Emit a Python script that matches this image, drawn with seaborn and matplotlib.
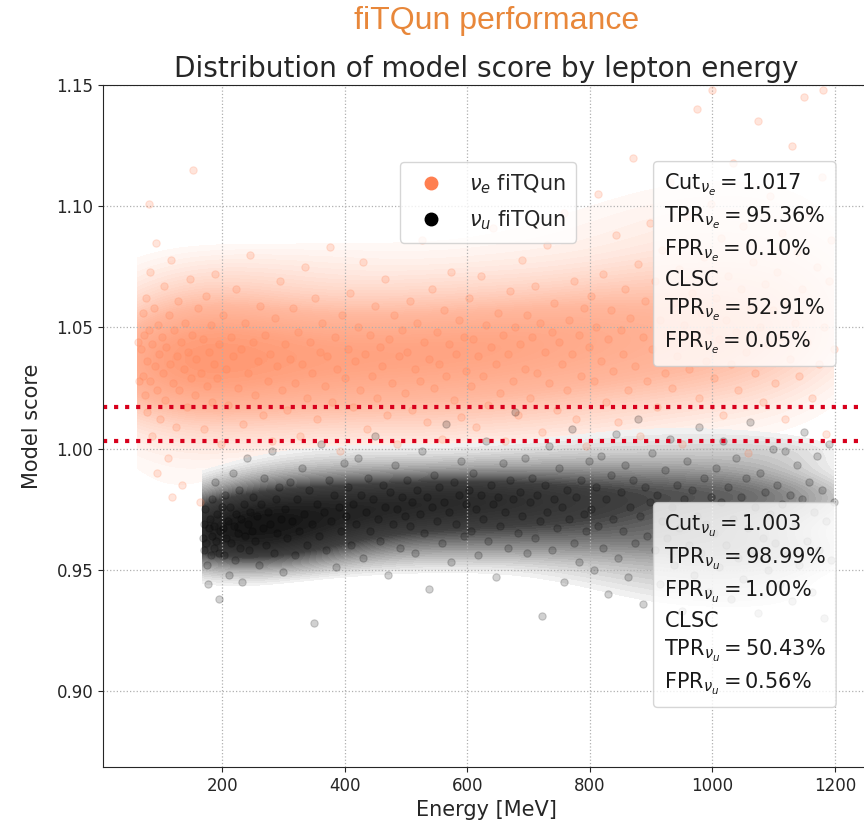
import matplotlib
matplotlib.use("Agg")
from matplotlib import pyplot as plt
from matplotlib.colors import LinearSegmentedColormap, to_rgb
from matplotlib.lines import Line2D
import pandas as pd
import seaborn as sns

# (energy [MeV], model score), nu_e sample
nue_low = [
    (62, 1.044), (65, 1.028), (68, 1.041), (70, 1.056), (71, 1.030), (72, 1.047), (74, 1.022), (75, 1.062),
    (77, 1.036), (78, 1.015), (80, 1.049), (81, 1.101), (82, 1.073), (83, 1.028), (85, 1.043), (86, 1.005),
    (88, 1.058), (90, 1.034), (92, 1.085), (93, 0.990), (94, 1.024), (95, 1.051), (97, 1.039), (99, 1.012),
    (101, 1.046), (103, 1.031), (105, 1.067), (107, 1.020), (109, 1.042), (111, 0.996), (113, 1.055), (115, 1.035),
    (117, 1.078), (118, 0.980), (119, 1.027), (121, 1.049), (124, 1.009), (126, 1.038), (128, 1.061), (130, 1.024),
    (133, 1.044), (135, 0.985), (137, 1.033), (140, 1.052), (142, 1.017), (145, 1.040), (147, 1.070), (149, 1.029),
    (151, 1.047), (153, 1.115), (155, 1.022), (158, 1.037), (160, 1.058), (163, 0.978), (165, 1.031), (168, 1.045),
    (170, 1.008), (173, 1.063), (175, 1.026), (178, 1.040), (181, 1.051), (184, 1.019), (186, 1.035), (189, 1.072),
    (192, 1.029), (195, 1.043), (198, 1.002),
    (202, 1.055), (206, 1.033), (210, 1.018), (214, 1.046), (218, 1.038), (222, 1.066), (226, 1.025), (230, 1.041),
    (234, 1.010), (238, 1.052), (242, 1.031), (246, 1.080), (250, 1.044), (254, 1.022), (258, 1.036), (262, 1.059),
    (266, 1.014), (270, 1.047), (274, 1.028), (278, 1.039), (282, 1.003), (286, 1.054), (290, 1.034), (295, 1.069),
    (298, 1.024),
    (302, 1.043), (306, 1.016), (310, 1.037), (315, 1.058), (319, 1.027), (323, 1.048), (327, 1.005), (331, 1.035),
    (335, 1.075), (339, 1.021), (343, 1.044), (347, 1.031), (351, 1.062), (355, 1.012), (359, 1.040), (363, 1.052),
    (367, 1.026), (371, 1.038), (376, 1.083), (380, 1.019), (384, 1.046), (388, 1.033), (392, 0.999), (396, 1.055),
]
nue_mid = [
    (401, 1.029), (405, 1.041), (409, 1.064), (413, 1.017), (417, 1.036), (421, 1.050), (425, 1.024), (429, 1.077),
    (433, 1.039), (437, 1.008), (441, 1.047), (445, 1.030), (449, 1.059), (453, 1.021), (457, 1.042), (461, 1.034),
    (465, 1.070), (469, 1.014), (473, 1.045), (477, 1.027), (481, 1.055), (485, 1.002), (489, 1.038), (494, 1.049),
    (498, 1.023),
    (502, 1.040), (506, 1.061), (510, 1.016), (514, 1.033), (518, 1.052), (522, 1.028), (526, 1.086), (530, 1.044),
    (534, 1.011), (538, 1.037), (542, 1.066), (546, 1.025), (550, 1.048), (554, 1.035), (558, 1.004), (562, 1.057),
    (566, 1.030), (570, 1.043), (574, 1.073), (578, 1.020), (582, 1.039), (586, 1.053), (590, 1.013), (594, 1.046),
    (598, 1.032),
    (602, 1.062), (606, 1.026), (610, 1.045), (614, 1.009), (618, 1.038), (622, 1.071), (626, 1.030), (630, 1.051),
    (634, 1.018), (638, 1.042), (642, 1.091), (646, 1.035), (650, 1.056), (654, 1.023), (658, 1.047), (662, 1.003),
    (666, 1.039), (670, 1.065), (674, 1.028), (678, 1.050), (682, 1.014), (686, 1.043), (690, 1.078), (694, 1.033),
    (698, 1.055),
    (702, 1.021), (706, 1.046), (710, 1.067), (714, 1.031), (718, 1.052), (722, 1.007), (726, 1.040), (730, 1.084),
    (734, 1.027), (738, 1.048), (742, 1.060), (746, 1.016), (750, 1.044), (754, 1.035), (758, 1.097), (762, 1.024),
    (766, 1.053), (770, 1.039), (774, 1.069), (778, 1.012), (782, 1.047), (786, 1.030), (790, 1.058), (794, 1.001),
    (798, 1.042),
]
nue_high = [
    (802, 1.063), (806, 1.028), (810, 1.050), (814, 1.105), (818, 1.036), (822, 1.072), (826, 1.019), (830, 1.045),
    (834, 1.057), (838, 1.032), (842, 1.088), (846, 1.011), (850, 1.049), (854, 1.039), (858, 1.066), (862, 1.024),
    (866, 1.054), (870, 1.120), (874, 1.034), (878, 1.076), (882, 1.005), (886, 1.046), (890, 1.061), (894, 1.028),
    (898, 1.093),
    (902, 1.041), (906, 1.069), (910, 1.017), (914, 1.053), (918, 1.082), (922, 1.031), (926, 1.047), (930, 1.110),
    (934, 1.025), (938, 1.060), (942, 1.038), (946, 1.074), (950, 1.002), (954, 1.051), (958, 1.096), (962, 1.033),
    (966, 1.064), (970, 1.044), (974, 1.140), (978, 1.021), (982, 1.056), (986, 1.079), (990, 1.036), (994, 1.049),
    (998, 1.101), (1000, 1.148),
    (1002, 1.029), (1006, 1.062), (1010, 1.045), (1014, 1.087), (1018, 1.014), (1022, 1.053), (1026, 1.071),
    (1030, 1.035), (1034, 1.118), (1038, 1.048), (1042, 1.024), (1046, 1.066), (1050, 1.092), (1054, 1.040),
    (1058, 0.998), (1062, 1.058), (1066, 1.077), (1070, 1.031), (1074, 1.135), (1078, 1.050), (1082, 1.019),
    (1086, 1.068), (1090, 1.043), (1094, 1.104), (1098, 1.057),
    (1102, 1.027), (1106, 1.073), (1110, 1.046), (1114, 1.089), (1118, 1.012), (1122, 1.060), (1126, 1.037),
    (1130, 1.125), (1134, 1.052), (1138, 1.081), (1142, 1.030), (1146, 1.066), (1150, 1.145), (1154, 1.044),
    (1158, 1.097), (1162, 1.021), (1166, 1.058), (1170, 1.075), (1174, 1.035), (1178, 1.112), (1180, 1.148),
    (1182, 1.050), (1186, 1.006), (1190, 1.069), (1194, 1.086), (1198, 1.041),
]

# nu_mu sample
numu_low = [
    (168, 0.963), (170, 0.958), (171, 0.969), (172, 0.975), (174, 0.961), (175, 0.952), (177, 0.944),
    (178, 0.967), (180, 0.971), (181, 0.956), (183, 0.964), (184, 0.979), (186, 0.959), (187, 0.968), (189, 0.986),
    (190, 0.962), (192, 0.973), (194, 0.938), (195, 0.957), (197, 0.966), (199, 0.976),
    (201, 0.967), (203, 0.956), (205, 0.981), (207, 0.963), (209, 0.970), (211, 0.948), (213, 0.976), (215, 0.961),
    (217, 0.990), (219, 0.968), (221, 0.954), (223, 0.973), (225, 0.965), (227, 0.983), (229, 0.959), (231, 0.971),
    (233, 0.945), (235, 0.977), (237, 0.964), (240, 0.996), (242, 0.969), (244, 0.958), (246, 0.974), (248, 0.966),
    (251, 0.980), (254, 0.962), (257, 0.972), (260, 0.952), (263, 0.977), (266, 0.967), (269, 0.988), (272, 0.960),
    (275, 0.974), (278, 0.969), (281, 0.999), (284, 0.957), (287, 0.979), (290, 0.965), (293, 0.984), (296, 0.971),
    (299, 0.949),
    (302, 0.975), (306, 0.963), (310, 0.986), (314, 0.970), (318, 0.956), (322, 0.979), (326, 0.966), (330, 0.992),
    (334, 0.973), (338, 0.960), (342, 0.983), (346, 0.969), (350, 0.928), (354, 0.977), (358, 0.964), (362, 1.002),
    (366, 0.974), (370, 0.958), (374, 0.987), (378, 0.970), (382, 0.981), (386, 0.951), (390, 0.976), (394, 0.966),
    (398, 0.994),
]
numu_mid = [
    (402, 0.972), (406, 0.984), (410, 0.960), (414, 0.977), (418, 0.969), (422, 0.996), (426, 0.981), (430, 0.955),
    (434, 0.974), (438, 0.988), (442, 0.966), (446, 0.979), (450, 1.005), (454, 0.971), (458, 0.962), (462, 0.985),
    (466, 0.976), (470, 0.948), (474, 0.982), (478, 0.969), (482, 0.993), (486, 0.975), (490, 0.959), (494, 0.980),
    (498, 0.972),
    (502, 0.987), (506, 0.968), (510, 0.978), (514, 0.957), (518, 0.983), (522, 0.973), (526, 0.999), (530, 0.965),
    (534, 0.980), (538, 0.942), (542, 0.976), (546, 0.989), (550, 0.970), (554, 0.984), (558, 0.961), (562, 0.978),
    (566, 1.010), (570, 0.974), (574, 0.953), (578, 0.986), (582, 0.969), (586, 0.981), (590, 0.995), (594, 0.964),
    (598, 0.977),
    (602, 0.983), (606, 0.966), (610, 0.990), (614, 0.975), (618, 0.956), (622, 0.981), (626, 0.971), (630, 1.003),
    (634, 0.962), (638, 0.985), (642, 0.977), (646, 0.947), (650, 0.980), (654, 0.968), (658, 0.994), (662, 0.974),
    (666, 0.959), (670, 0.987), (674, 0.979), (678, 1.015), (682, 0.965), (686, 0.982), (690, 0.972), (694, 0.996),
    (698, 0.957),
    (702, 0.978), (706, 0.988), (710, 0.963), (714, 0.981), (718, 0.970), (722, 0.931), (726, 0.985), (730, 0.974),
    (734, 1.001), (738, 0.958), (742, 0.979), (746, 0.967), (750, 0.992), (754, 0.976), (758, 0.945), (762, 0.983),
    (766, 0.971), (770, 1.008), (774, 0.961), (778, 0.980), (782, 0.953), (786, 0.987), (790, 0.973), (794, 0.966),
    (798, 0.995),
]
numu_high = [
    (802, 0.975), (806, 0.950), (810, 0.984), (814, 0.968), (818, 0.997), (822, 0.959), (826, 0.979), (830, 0.940),
    (834, 0.989), (838, 0.971), (842, 1.006), (846, 0.955), (850, 0.982), (854, 0.966), (858, 0.993), (862, 0.947),
    (866, 0.976), (870, 0.987), (874, 0.961), (878, 1.012), (882, 0.972), (886, 0.936), (890, 0.984), (894, 0.964),
    (898, 0.978),
    (902, 0.998), (906, 0.958), (910, 0.981), (914, 0.944), (918, 0.970), (922, 0.991), (926, 0.963), (930, 1.004),
    (934, 0.976), (938, 0.952), (942, 0.985), (946, 0.967), (950, 0.933), (954, 0.979), (958, 0.995), (962, 0.960),
    (966, 0.983), (970, 0.948), (974, 0.972), (978, 1.009), (982, 0.957), (986, 0.988), (990, 0.969), (994, 0.941),
    (998, 0.980),
    (1002, 0.965), (1006, 0.992), (1010, 0.951), (1014, 0.978), (1018, 1.003), (1022, 0.960), (1026, 0.984),
    (1030, 0.938), (1034, 0.971), (1038, 0.996), (1042, 0.955), (1046, 0.980), (1050, 0.946), (1054, 0.988),
    (1058, 0.967), (1062, 1.011), (1066, 0.958), (1070, 0.976), (1074, 0.932), (1078, 0.990), (1082, 0.963),
    (1086, 0.982), (1090, 0.950), (1094, 0.973), (1098, 1.000),
    (1102, 0.961), (1106, 0.985), (1110, 0.944), (1114, 0.977), (1118, 0.999), (1122, 0.956), (1126, 0.981),
    (1130, 0.937), (1134, 0.969), (1138, 0.993), (1142, 0.952), (1146, 0.979), (1150, 1.007), (1154, 0.962),
    (1158, 0.986), (1162, 0.941), (1166, 0.974), (1170, 0.997), (1174, 0.958), (1178, 0.983), (1182, 0.930),
    (1186, 0.970), (1190, 1.002), (1194, 0.954), (1198, 0.978),
]

cut_nue = 1.017
cut_numu = 1.003
nue_rates = {"TPR": 95.36, "FPR": 0.10, "TPR_clsc": 52.91, "FPR_clsc": 0.05}
numu_rates = {"TPR": 98.99, "FPR": 1.00, "TPR_clsc": 50.43, "FPR_clsc": 0.56}
yticks = [0.90, 0.95, 1.00, 1.05, 1.10, 1.15]

nue_df = pd.DataFrame(nue_low + nue_mid + nue_high, columns=["energy", "score"])
numu_df = pd.DataFrame(numu_low + numu_mid + numu_high, columns=["energy", "score"])

NUE_C = "coral"
NUMU_C = "black"


def tint(c, a):
    # opaque mix of colour c with white
    return tuple(1 - a + a * v for v in to_rgb(c))


sns.set_style("ticks")
fig = plt.figure(figsize=(8.64, 8.27), dpi=100)
ax = fig.add_axes([0.1192, 0.0726, 0.8877, 0.8246])

cmap_e = LinearSegmentedColormap.from_list(
    "nue", [(0.0, tint(NUE_C, 0.04)), (0.5, tint(NUE_C, 0.55)), (1.0, tint(NUE_C, 0.8))])
cmap_u = LinearSegmentedColormap.from_list(
    "numu", [(0.0, tint(NUMU_C, 0.04)), (0.5, tint(NUMU_C, 0.75)), (1.0, tint(NUMU_C, 0.92))])

# density shading under grid and points (opaque tints so the bands leave no seams)
sns.kdeplot(data=nue_df, x="energy", y="score", fill=True, cmap=cmap_e, levels=40,
            thresh=0.07, bw_adjust=0.85, cut=0, zorder=0.3, ax=ax)
sns.kdeplot(data=numu_df, x="energy", y="score", fill=True, cmap=cmap_u, levels=40,
            thresh=0.08, bw_adjust=0.85, cut=0, zorder=0.35, ax=ax)
sns.scatterplot(data=nue_df, x="energy", y="score", color=NUE_C, edgecolor=NUE_C,
                s=28, alpha=0.2, linewidth=0.8, legend=False, ax=ax)
sns.scatterplot(data=numu_df, x="energy", y="score", color=NUMU_C, edgecolor=NUMU_C,
                s=28, alpha=0.18, linewidth=0.8, legend=False, ax=ax)

ax.axhline(cut_nue, color="#d8001c", ls=":", lw=3)
ax.axhline(cut_numu, color="#d8001c", ls=":", lw=3)

ax.set_xlim(5.5, 1257)
ax.set_ylim(0.8686, 1.15)
ax.set_yticks(yticks)
ax.grid(True, linestyle=":", color="#b0b0b0", linewidth=0.9)
ax.tick_params(labelsize=12)
ax.set_xlabel("Energy [MeV]", fontsize=15)
ax.set_ylabel("Model score", fontsize=15, labelpad=10)
ax.set_title("Distribution of model score by lepton energy", fontsize=20.2)

handles = [Line2D([], [], marker="o", ls="", color=NUE_C, markersize=9),
           Line2D([], [], marker="o", ls="", color=NUMU_C, markersize=9)]
fig.legend(handles, [r"$\nu_e$ fiTQun", r"$\nu_u$ fiTQun"], loc="upper left",
           bbox_to_anchor=(400 / 864, 1 - 162 / 827), fontsize=15, frameon=True,
           edgecolor="#cccccc", framealpha=0.8, borderaxespad=0,
           labelspacing=0.6, borderpad=0.5)


def stat_lines(sub, cut, r):
    return "\n".join([
        r"$\mathrm{Cut}_{%s} = %.3f$" % (sub, cut),
        r"$\mathrm{TPR}_{%s} = %.2f\%%$" % (sub, r["TPR"]),
        r"$\mathrm{FPR}_{%s} = %.2f\%%$" % (sub, r["FPR"]),
        r"$\mathrm{CLSC}$",
        r"$\mathrm{TPR}_{%s} = %.2f\%%$" % (sub, r["TPR_clsc"]),
        r"$\mathrm{FPR}_{%s} = %.2f\%%$" % (sub, r["FPR_clsc"]),
    ])


box = dict(boxstyle="round,pad=0.5,rounding_size=0.2", fc="white", ec="#cccccc", alpha=0.8)
fig.text(664 / 864, 1 - 172 / 827, stat_lines(r"\nu_e", cut_nue, nue_rates),
         fontsize=15, ha="left", va="top", bbox=box, color="#1a1a1a", linespacing=1.38)
fig.text(664 / 864, 1 - 513 / 827, stat_lines(r"\nu_u", cut_numu, numu_rates),
         fontsize=15, ha="left", va="top", bbox=box, color="#1a1a1a", linespacing=1.38)

fig.text(497 / 864, 1 - 21 / 827, "fiTQun performance", ha="center", va="center",
         color="#e8873a", fontsize=23, family=["Liberation Sans", "DejaVu Sans"])

fig.savefig("out.png", dpi=100)
